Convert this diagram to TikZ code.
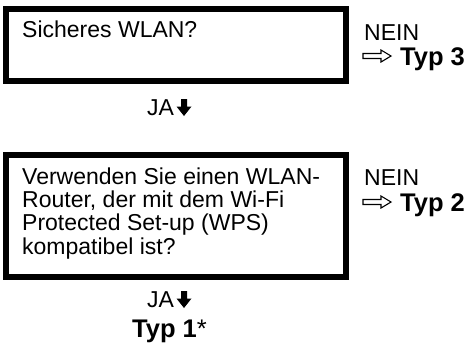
\documentclass[tikz,border=0pt]{standalone}
\usepackage{fontspec}
\setmainfont{Liberation Sans}
\begin{document}
\begin{tikzpicture}[x=1pt,y=-1pt,
  qbox/.style={draw=black, line width=6pt},
  txt/.style={anchor=base west, inner sep=0pt, font=\fontsize{23}{23.2}\selectfont, align=left},
  btxt/.style={anchor=base west, inner sep=0pt, font=\fontsize{25.5}{27}\selectfont\bfseries},
  downarr/.style={fill=black},
  hollowarr/.style={draw=black, line width=1.1pt, fill=white, line join=miter}]
\useasboundingbox (0,0) rectangle (470,349);
% boxes
\draw[qbox] (6,9) rectangle (346,81);
\draw[qbox] (6,155) rectangle (346,277);
% texts in boxes
\node[txt] (q1) at (22,37) {Sicheres WLAN?};
\node[txt] (q2) at (22,254) {Verwenden Sie einen WLAN-\\Router, der mit dem Wi-Fi\\Protected Set-up (WPS)\\kompatibel ist?};
% NEIN branches
\node[txt] (n1) at (364,40) {NEIN};
\coordinate (ha1) at (363,56);
\node[btxt] (t3) at (400,65) {Typ 3};
\node[txt] (n2) at (364,185) {NEIN};
\coordinate (ha2) at (363,202);
\node[btxt] (t2) at (400,211) {Typ 2};
\foreach \c in {ha1,ha2}
  \draw[hollowarr] (\c) ++(0,2.5) -- ++(18,0) -- ++(0,3.5) -- ++(10,-6) -- ++(-10,-6) -- ++(0,3.5) -- ++(-18,0) -- cycle;
% JA branches
\node[txt] (j1) at (147,115) {JA};
\coordinate (da1) at (184,99);
\node[txt] (j2) at (147,307) {JA};
\coordinate (da2) at (184,291);
\foreach \c in {da1,da2}
  \fill[downarr] (\c) ++(-3,0) -- ++(6,0) -- ++(0,7.5) -- ++(4.5,0) -- ++(-7.5,9.5) -- ++(-7.5,-9.5) -- ++(4.5,0) -- cycle;
\node[btxt] (t1) at (132,337) {Typ 1\textmd{*}};
\end{tikzpicture}
\end{document}
